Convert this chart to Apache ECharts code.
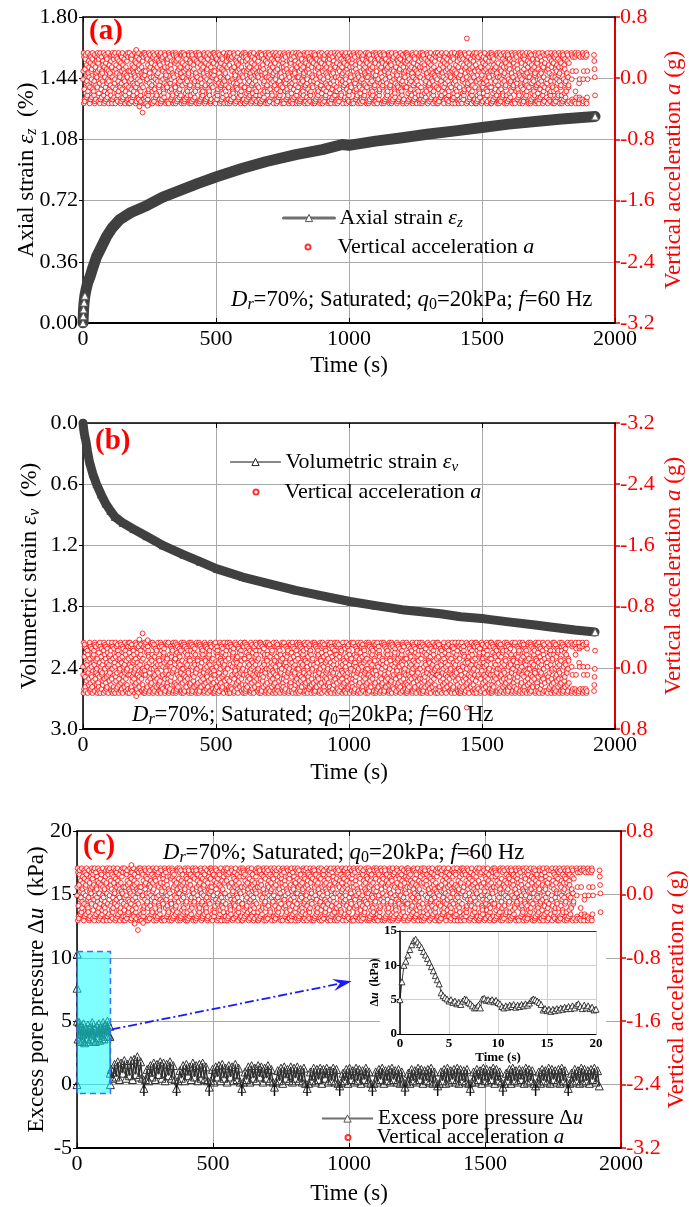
<!DOCTYPE html>
<html>
<head>
<meta charset="utf-8">
<script src="https://cdn.jsdelivr.net/npm/echarts@6/dist/echarts.min.js"></script>
<style>
  html, body { margin: 0; padding: 0; background: #fff; }
  #chart { width: 689px; height: 1207px; }
</style>
</head>
<body>
<div id="chart"></div>
<script>
const FONT = 'Liberation Serif';

// Time axis shared by the three panels (s)
const timeMin = 0, timeMax = 2000, timeInterval = 500;

// (a) axial strain (%) vs time (s)
const axialTime   = [0, 1, 2, 4, 7, 12, 18, 26, 38, 51, 70, 89, 110, 139, 180, 239, 300, 365, 430, 502, 600, 690, 800, 900, 975, 1000, 1100, 1200, 1293, 1400, 1500, 1600, 1700, 1800, 1925];
const axialStrain = [0, 0.04, 0.08, 0.12, 0.16, 0.2, 0.24, 0.27, 0.33, 0.39, 0.45, 0.51, 0.56, 0.61, 0.65, 0.69, 0.74, 0.78, 0.82, 0.86, 0.91, 0.95, 0.99, 1.02, 1.05, 1.045, 1.07, 1.09, 1.11, 1.13, 1.15, 1.17, 1.185, 1.2, 1.215];

// (b) volumetric strain (%) vs time (s)
const volTime   = [0, 3, 6, 11, 17, 24, 37, 51, 68, 85, 103, 120, 150, 190, 239, 300, 377, 440, 503, 600, 690, 800, 891, 1004, 1100, 1200, 1344, 1420, 1510, 1600, 1700, 1758, 1850, 1925];
const volStrain = [0, 0.07, 0.12, 0.18, 0.28, 0.38, 0.5, 0.6, 0.7, 0.79, 0.86, 0.92, 0.98, 1.04, 1.11, 1.2, 1.29, 1.36, 1.43, 1.51, 1.57, 1.64, 1.69, 1.75, 1.79, 1.83, 1.87, 1.9, 1.92, 1.95, 1.98, 2.0, 2.03, 2.05];

// (c) excess pore pressure (kPa): first two minutes, then the long record
const poreEarlyTime  = [0, 0.5, 1, 1.5, 4, 8, 12, 16, 20, 24, 28, 32, 36, 40, 44, 48, 52, 56, 60, 64, 68, 72, 76, 80, 84, 88, 92, 96, 100, 104, 108, 112, 116, 120, 121, 122, 123];
const poreEarlyValue = [0, 7.6, 10.3, 5.0, 3.6, 4.9, 3.4, 4.6, 3.5, 4.8, 3.3, 4.4, 3.6, 4.7, 3.4, 4.5, 3.6, 4.9, 3.5, 4.4, 3.4, 4.6, 3.7, 4.8, 3.5, 4.5, 3.6, 4.9, 3.6, 4.7, 3.8, 5.0, 3.9, 4.6, 3.8, 0.9, 0.0];
const poreBandStart = 126, poreBandStep = 6;
const poreBand = [
  1.2,0.5,1.6,0.6,1.8,0.4,1.7,0.9,1.9,0.5,1.6,0.7,1.9,0.4,2.0,0.8,2.2,0.6,1.8,0.5,
  -0.3,0.4,1.2,0.3,1.5,0.6,1.7,0.4,1.6,0.8,1.8,0.5,1.7,0.3,1.6,0.7,1.8,0.5,1.5,0.4,
  -0.3,0.3,1.1,0.5,1.5,0.3,1.6,0.7,1.4,0.4,1.7,0.6,1.5,0.3,1.6,0.5,1.7,0.4,1.4,0.3,
  -0.2,0.3,1.2,0.2,1.4,0.6,1.5,0.3,1.6,0.5,1.3,0.2,1.5,0.6,1.4,0.3,1.6,0.4,1.3,0.2,
  -0.3,0.2,1.0,0.4,1.4,0.2,1.5,0.5,1.3,0.3,1.5,0.6,1.4,0.2,1.3,0.5,1.5,0.3,1.2,0.2,
  -0.2,0.2,1.1,0.3,1.3,0.1,1.4,0.5,1.2,0.3,1.4,0.2,1.3,0.5,1.4,0.3,1.2,0.2,1.3,0.1,
  -0.3,0.1,1.0,0.3,1.3,0.2,1.2,0.4,1.3,0.1,1.2,0.5,1.3,0.2,1.1,0.3,1.3,0.2,1.2,0.1,
  -0.1,0.2,0.9,0.3,1.2,0.1,1.3,0.4,1.1,0.2,1.3,0.3,1.2,0.1,1.1,0.4,1.3,0.2,1.0,0.1,
  -0.2,0.1,1.0,0.2,1.2,0.4,1.3,0.1,1.1,0.3,1.2,0.2,1.3,0.4,1.1,0.2,1.2,0.1,1.0,0.2,
  -0.2,0.2,0.9,0.1,1.2,0.3,1.1,0.2,1.3,0.4,1.2,0.1,1.1,0.3,1.2,0.2,1.3,0.1,1.0,0.2,
  -0.1,0.1,1.0,0.3,1.2,0.1,1.3,0.2,1.1,0.4,1.2,0.2,1.3,0.1,1.2,0.3,1.1,0.2,1.2,0.1,
  -0.3,0.2,1.0,0.2,1.2,0.4,1.1,0.1,1.3,0.3,1.2,0.2,1.1,0.4,1.3,0.1,1.2,0.3,1.0,0.2,
  -0.2,0.1,0.9,0.3,1.2,0.1,1.3,0.3,1.1,0.2,1.2,0.4,1.1,0.1,1.3,0.2,1.2,0.3,1.1,0.1,
  -0.1,0.2,1.0,0.1,1.2,0.3,1.1,0.2,1.3,0.1,1.2,0.4,1.1,0.2,1.2,0.1,1.3,0.3,1.1,0.2,
  -0.3,0.1,0.9,0.2,1.2,0.3,1.1,0.1,1.3,0.2,1.2,0.3,1.1,0.1,1.2,0.4,1.3,0.2,1.1,-0.1
];
// short pressure drops at the start of each loading block
const poreDipTime = [246, 366, 486, 606, 726, 846, 966, 1086, 1206, 1326, 1446, 1566, 1686, 1806];
const poreDipDepth = -0.9;

// highlighted window and the pointer towards the detail plot (time s, kPa)
const zoomBox = { t0: 0, t1: 123, u0: -0.7, u1: 10.5 };
const pointerFrom = [127, 4.35], pointerTo = [1010, 8.15];

// detail plot: first 20 s of pore pressure (kPa), sampled every 0.2 s
const insetStep = 0.2;
const insetPore = [
  5.0,7.6,10.0,10.6,11.5,12.3,13.0,13.6,13.8,13.4,
  13.0,12.6,12.0,11.5,11.0,10.4,9.8,9.2,8.5,7.9,
  7.3,6.0,5.6,5.3,5.1,4.8,5.0,4.6,4.8,4.4,
  4.6,4.3,4.8,5.1,5.0,4.6,4.4,4.1,3.8,3.9,
  4.2,3.8,5.1,5.2,4.9,5.0,4.8,5.0,4.7,4.9,
  4.6,4.4,4.0,3.8,4.1,3.9,4.2,4.0,4.3,3.9,
  4.2,4.0,4.3,4.1,4.4,4.2,4.5,4.9,5.1,5.0,
  4.8,4.6,4.3,3.5,3.7,3.4,3.6,3.3,3.6,3.4,
  3.7,3.5,3.8,3.6,3.9,3.7,4.0,3.7,4.1,3.8,
  4.2,4.4,4.0,3.7,4.2,3.8,4.1,3.7,3.9,3.5,
  3.6
];

// vertical acceleration (g): one character per sample, 'a' = -0.33 g ... 'z' = +0.33 g, '.' = no sample
const accelEnd = 1925;
const accelMin = -0.33, accelLevel = 0.0264;
const accelCodes = [
  'mqzaxhcbrwyfkdtloezgjpvsnbaiyucxqmrdwzhtfkgelyabsocjpvnxizqu',
  'bwfyrkazcomhxdqplvtjzeasgnybiucxrwkdfmzqalhtopgjevybsanzcixw',
  'ydqkmzahrtxcpfwbelgzsvojniayubkxqhzctdmrfwlpaegsyjovbnzxcqia',
  'fzlaqcxmhwbytrdkepgsjozvnaiubyxfkqmzdctwrhlaegbpsjyovnixzcqa',
  'ozbyqdaxlfmwcteghzrkpysvaniujbgaxzcnrbyhqtmdkfweoszlpaviyjuc',
  'tyazlbwecrxqmhgfdkzsypnaojvbiuwbsazqlygxktcrmhdfpezoaynvjbiu',
  'iazyvxbfqcwtmkrgdhlsoepzaynjubnzxaqbyctkfrwmdhlgseopzyaivjbu',
  'easzbxyqmctfrwkdlhgopzvaynijublzaxybqcmtwfdkrhegsopzvyanijbu',
  'cxqmrdwzhtfkgelyabsocjpvnxizquozbyqdaxlfmwcteghzrkpysvaniujb',
  'cxrwkdfmzqalhtopgjevybsanzcixwtyazlbwecrxqmhgfdkzsypnaojvbiu',
  'kxqhzctdmrfwlpaegsyjovbnzxcqiaiazyvxbfqcwtmkrgdhlsoepzaynjub',
  'xfkqmzdctwrhlaegbpsjyovnixzcqaeaszbxyqmctfrwkdlhgopzvaynijub',
  'gaxzcnrbyhqtmdkfweoszlpaviyjucmqzaxhcbrwyfkdtloezgjpvsnbaiyu',
  'wbsazqlygxktcrmhdfpezoaynvjbiubwfyrkazcomhxdqplvtjzeasgnybiu',
  'nzxaqbyctkfrwmdhlgseopzyaivjbuydqkmzahrtxcpfwbelgzsvojniayub',
  'lzaxybqcmtwfdkrhegsopzvyanijbufzlaqcxmhwbytrdkepgsjozvnaiuby',
  'bwfyrkazcomhxdqplvtjzeasgnybiugaxzcnrbyhqtmdkfweoszlpaviyjuc',
  'ydqkmzahrtxcpfwbelgzsvojniayubwbsazqlygxktcrmhdfpezoaynvjbiu',
  'fzlaqcxmhwbytrdkepgsjozvnaiubynzxaqbyctkfrwmdhlgseopzyaivjbu',
  'ozbyqdaxlfmwcteghzrkpysvaniujblzaxybqcmtwfdkrhegsopzvyanijbu',
  'tyazlbwecrxqmhgfdkzsypnaojvbiucxqmrdwzhtfkgelyabsocjpvnxizqu',
  'iazyvxbfqcwtmkrgdhlsoepzaynjubcxrwkdfmzqalhtopgjevybsanzcixw',
  'easzbxyqmctfrwkdlhgopzvaynijubkxqhzctdmrfwlpaegsyjovbnzxcqia',
  'mqzaxhcbrwyfkdtloezgjpvsnbaiyuxfkqmzdctwrhlaegbpsjyovnixzcqa',
  'cxrwkdfmzqalhtopgjevybsanzcixwozbyqdaxlfmwcteghzrkpysvaniujb',
  'kxqhzctdmrfwlpaegsyjovbnzxcqiatyazlbwecrxqmhgfdkzsypnaojvbiu',
  'xfkqmzdctwrhlaegbpsjyovnixzcqaiazyvxbfqcwtmkrgdhlsoepzaynjub',
  'gaxzcnrbyhqtmdkfweoszlpaviyjuceaszbxyqmctfrwkdlhgopzvaynijub',
  'wbsazqlygxktcrmhdfpezoaynvjbiumqzaxhcbrwyfkdtloezgjpvsnbaiyu',
  'nzxaqbyctkfrwmdhlgseopzyaivjbubwfyrkazcomhxdqplvtjzeasgnybiu',
  '.....',
  'ydqkmzahrtxcpfwbelgzsvojniayubgaxzcnrbyhqtmdkfweoszlpaviyjuceaszbxyqmctfrwkdlhgopzvaynijub',
  '.......azmycqxb......bxzgaqdy......zyakdmcx.......cazxmbqy......xbzaydqm........................yvrne'
].join('');
// isolated readings outside the main band (time s, g)
const accelOutliers = [[200, 0.37], [212, -0.37], [224, -0.45], [243, -0.36], [1443, 0.52]];

// ---------- data tables for the library ----------
const accelStep = accelEnd / (accelCodes.length - 1);
const accelData = [];
for (let i = 0; i < accelCodes.length; i++) {
  const c = accelCodes[i];
  if (c === '.') continue;
  accelData.push([i * accelStep, accelMin + (c.charCodeAt(0) - 97) * accelLevel]);
}
accelOutliers.forEach(p => accelData.push(p));

const openMark = { color: '#fff', borderColor: '#666', borderWidth: 1 };
function strainData(times, values, openCount) {
  const last = times.length - 1;
  return times.map((t, i) => {
    const item = { value: [t, values[i]] };
    if (i < openCount || i === last) item.itemStyle = openMark;
    return item;
  });
}
const poreData = poreEarlyTime.map((t, i) => [t, poreEarlyValue[i]])
  .concat(poreBand.map((v, i) => [poreBandStart + i * poreBandStep, v]));
const insetData = insetPore.map((v, i) => [+(i * insetStep).toFixed(1), v]);

// ---------- text styles ----------
function richSet(size, lh, pad) {
  return {
    n: { fontFamily: FONT, fontSize: size, lineHeight: lh },
    i: { fontFamily: FONT, fontSize: size, fontStyle: 'italic', lineHeight: lh },
    s: { fontFamily: FONT, fontSize: Math.round(size * 0.68), fontStyle: 'italic', lineHeight: 15, verticalAlign: 'bottom' },
    s0: { fontFamily: FONT, fontSize: Math.round(size * 0.68), lineHeight: 15, verticalAlign: 'bottom' },
    g: { width: pad || 0, lineHeight: lh }
  };
}
const legendLabels = {
  'Axial strain εz': '{n|Axial strain }{i|ε}{s|z}',
  'Volumetric strain εv': '{n|Volumetric strain }{i|ε}{s|v}',
  'Excess pore pressure Δu': '{n|Excess pore pressure Δ}{i|u}',
  'Vertical acceleration a': '{g|}{n|Vertical acceleration }{i|a}'
};
const legendFmt = name => legendLabels[name] || name;

// ---------- axes ----------
function bottomTime(gi, gap) {
  return {
    type: 'value', gridIndex: gi, position: 'bottom', min: timeMin, max: timeMax, interval: timeInterval,
    axisLine: { show: true, onZero: false, lineStyle: { color: '#000', width: 2 } },
    axisTick: { show: true, inside: true, length: 5, lineStyle: { color: '#000', width: 1 } },
    axisLabel: { show: true, margin: 5, color: '#000', fontFamily: FONT, fontSize: 22, formatter: v => String(v) },
    splitLine: { show: true, lineStyle: { color: '#a8a8a8', width: 1 } },
    name: 'Time (s)', nameLocation: 'middle', nameGap: gap, nameMoveOverlap: false,
    nameTextStyle: { color: '#000', fontFamily: FONT, fontSize: 23 }
  };
}
function topTime(gi) {
  return {
    type: 'value', gridIndex: gi, position: 'top', min: timeMin, max: timeMax, interval: timeInterval,
    axisLine: { show: true, onZero: false, lineStyle: { color: '#000', width: 1.5 } },
    axisTick: { show: true, inside: true, length: 5, lineStyle: { color: '#000', width: 1 } },
    axisLabel: { show: false }, splitLine: { show: false }
  };
}
function leftY(gi, min, max, interval, inverse, digits, name, gap) {
  return {
    type: 'value', gridIndex: gi, position: 'left', min, max, interval, inverse,
    axisLine: { show: true, onZero: false, lineStyle: { color: '#000', width: 1.5 } },
    axisTick: { show: true, inside: false, length: 4, lineStyle: { color: '#000', width: 1 } },
    axisLabel: { margin: 5, color: '#000', fontFamily: FONT, fontSize: 22,
      formatter: v => (Math.abs(v) < 1e-9 ? 0 : v).toFixed(digits) },
    splitLine: { show: true, lineStyle: { color: '#a8a8a8', width: 1 } },
    name, nameLocation: 'middle', nameRotate: 90, nameGap: gap, nameMoveOverlap: false,
    nameTextStyle: { color: '#000', fontFamily: FONT, fontSize: 23, rich: richSet(23, 26) }
  };
}
function rightY(gi, inverse, gap) {
  return {
    type: 'value', gridIndex: gi, position: 'right', min: -3.2, max: 0.8, interval: 0.8, inverse,
    axisLine: { show: true, onZero: false, lineStyle: { color: '#e00000', width: 2 } },
    axisTick: { show: true, inside: false, length: 5, lineStyle: { color: '#e00000', width: 1.5 } },
    axisLabel: { margin: 5, color: '#ff0000', fontFamily: FONT, fontSize: 22,
      formatter: v => (Math.abs(v) < 1e-9 ? 0 : v).toFixed(1) },
    splitLine: { show: false },
    name: '{n|Vertical acceleration }{i|a}{n| (g)}', nameLocation: 'middle', nameRotate: 90, nameGap: gap, nameMoveOverlap: false,
    nameTextStyle: { color: '#ff0000', fontFamily: FONT, fontSize: 23, rich: richSet(23, 26) }
  };
}

// ---------- series helpers ----------
function accelSeries(xi, yi) {
  return {
    type: 'scatter', name: 'Vertical acceleration a', xAxisIndex: xi, yAxisIndex: yi,
    data: accelData, symbol: 'circle', symbolSize: 4.8, silent: true, z: 2,
    itemStyle: { color: '#fff', borderColor: '#ff0000', borderWidth: 1 }
  };
}
function strainSeries(name, xi, yi, data, width) {
  return {
    type: 'line', name, xAxisIndex: xi, yAxisIndex: yi, data, z: 3, silent: true,
    symbol: 'triangle', symbolSize: 7, showSymbol: true,
    itemStyle: { color: '#404040', borderColor: '#404040', borderWidth: 1 },
    lineStyle: { color: '#404040', width, cap: 'round', join: 'round' }
  };
}

// one legend box per entry so each key can have its own icon size
function legendBox(name, left, top, w, h, size, lh, style, pad) {
  return {
    orient: 'vertical', left, top, padding: 0, itemWidth: w, itemHeight: h,
    selectedMode: false, formatter: legendFmt,
    textStyle: { color: '#000', fontFamily: FONT, fontSize: size, lineHeight: lh, rich: richSet(size, lh, pad) },
    data: [style ? Object.assign({ name }, style) : name]
  };
}

const noteRich = {
  n: { fontFamily: FONT, fontSize: 22.7, lineHeight: 26 },
  i: { fontFamily: FONT, fontSize: 22.7, fontStyle: 'italic', lineHeight: 26 },
  s: { fontFamily: FONT, fontSize: 16, fontStyle: 'italic', lineHeight: 15, verticalAlign: 'bottom' },
  s0: { fontFamily: FONT, fontSize: 16, lineHeight: 15, verticalAlign: 'bottom' }
};
function note(x, y) {
  return {
    type: 'text', x, y, z: 10, silent: true,
    style: {
      text: '{i|D}{s|r}{n|=70%; Saturated; }{i|q}{s0|0}{n|=20kPa; }{i|f}{n|=60 Hz}',
      fill: '#000', fontFamily: FONT, fontSize: 22.7, align: 'left', verticalAlign: 'middle', rich: noteRich
    }
  };
}
function panelTag(txt, x, y) {
  return { type: 'text', x, y, z: 10, silent: true,
    style: { text: txt, fill: '#ff0000', fontFamily: FONT, fontSize: 29, fontWeight: 'bold', align: 'left', verticalAlign: 'middle' } };
}

const strainKey = (border, lineColor, lineWidth) => ({
  itemStyle: { color: '#fff', borderColor: border, borderWidth: 1 }, lineStyle: { color: lineColor, width: lineWidth }
});

const option = {
  animation: false,
  backgroundColor: '#fff',
  grid: [
    { left: 83, top: 17, width: 532, height: 306 },
    { left: 83, top: 423, width: 532, height: 306 },
    { left: 77, top: 831, width: 544, height: 317 },
    { left: 400, top: 931, width: 196, height: 103 }
  ].map(g => Object.assign({ show: false, containLabel: false, outerBoundsMode: 'none' }, g)),
  xAxis: [
    bottomTime(0, 31), topTime(0),
    bottomTime(1, 32), topTime(1),
    bottomTime(2, 34), topTime(2),
    {
      type: 'value', gridIndex: 3, position: 'bottom', min: 0, max: 20, interval: 5, z: 3,
      axisLine: { show: true, onZero: false, lineStyle: { color: '#000', width: 1.2 } },
      axisTick: { show: false },
      axisLabel: { margin: 3, color: '#000', fontFamily: FONT, fontSize: 13, fontWeight: 'bold' },
      splitLine: { show: true, lineStyle: { color: '#cfcfcf', width: 1 } },
      name: 'Time (s)', nameLocation: 'middle', nameGap: 17, nameMoveOverlap: false,
      nameTextStyle: { color: '#000', fontFamily: FONT, fontSize: 13, fontWeight: 'bold' }
    },
    {
      type: 'value', gridIndex: 3, position: 'top', min: 0, max: 20, z: 3,
      axisLine: { show: true, onZero: false, lineStyle: { color: '#333', width: 1 } },
      axisTick: { show: false }, axisLabel: { show: false }, splitLine: { show: false }
    }
  ],
  yAxis: [
    leftY(0, 0, 1.8, 0.36, false, 2, '{n|Axial strain }{i|ε}{s|z}{n|  (%)}', 43),
    rightY(0, false, 46),
    leftY(1, 0, 3.0, 0.6, true, 1, '{n|Volumetric strain }{i|ε}{s|v}{n|  (%)}', 40),
    rightY(1, true, 46),
    leftY(2, -5, 20, 5, false, 0, '{n|Excess pore pressure Δ}{i|u}{n|  (kPa)}', 27),
    rightY(2, false, 43),
    {
      type: 'value', gridIndex: 3, position: 'left', min: 0, max: 15, interval: 5, z: 3,
      axisLine: { show: true, onZero: false, lineStyle: { color: '#000', width: 1.5 } },
      axisTick: { show: true, length: 3, lineStyle: { color: '#000' } },
      axisLabel: { margin: 3, color: '#000', fontFamily: FONT, fontSize: 13, fontWeight: 'bold' },
      splitLine: { show: true, lineStyle: { color: '#cfcfcf', width: 1 } },
      name: '{n|Δ}{i|u}{n|  (kPa)}', nameLocation: 'middle', nameRotate: 90, nameGap: 19, nameMoveOverlap: false,
      nameTextStyle: { color: '#000', fontFamily: FONT, fontSize: 12, fontWeight: 'bold',
        rich: { n: { fontFamily: FONT, fontSize: 12, fontWeight: 'bold' }, i: { fontFamily: FONT, fontSize: 12, fontWeight: 'bold', fontStyle: 'italic' } } }
    }
  ],
  legend: [
    legendBox('Axial strain εz', 282, 205, 51, 9, 22, 26, strainKey('#555', '#707070', 3)),
    legendBox('Vertical acceleration a', 304.5, 234, 5, 5, 22, 26, null, 22),
    legendBox('Volumetric strain εv', 230, 449, 50, 9, 22, 26, strainKey('#222', '#111', 1)),
    legendBox('Vertical acceleration a', 252.5, 479, 5, 5, 22, 26, null, 21),
    legendBox('Excess pore pressure Δu', 321, 1108, 51, 9, 21, 20, strainKey('#555', '#707070', 2)),
    legendBox('Vertical acceleration a', 344.5, 1127, 5, 5, 21, 20, null, 21)
  ],
  graphic: [
    // white backing behind the detail plot
    { type: 'rect', z: 1, silent: true, shape: { x: 380, y: 923, width: 226, height: 139 }, style: { fill: '#fff' } },
    panelTag('(a)', 89, 32), panelTag('(b)', 95, 442), panelTag('(c)', 83, 847),
    note(231, 300), note(132, 715), note(163, 853)
  ],
  series: [
    accelSeries(0, 1),
    strainSeries('Axial strain εz', 0, 0, strainData(axialTime, axialStrain, 5), 11),
    accelSeries(2, 3),
    strainSeries('Volumetric strain εv', 2, 2, strainData(volTime, volStrain, 0), 9),
    accelSeries(4, 5),
    {
      type: 'line', name: 'Excess pore pressure Δu', xAxisIndex: 4, yAxisIndex: 4, data: poreData, z: 3, silent: true,
      symbol: 'triangle', symbolSize: 8, showSymbol: true,
      itemStyle: { color: 'rgba(255,255,255,0)', borderColor: '#333', borderWidth: 1 },
      lineStyle: { color: '#2e2e2e', width: 1.4 }
    },
    {
      type: 'custom', name: 'pressure drops', xAxisIndex: 4, yAxisIndex: 4, z: 4, silent: true,
      data: poreDipTime.map(t => [t, 0, poreDipDepth]),
      renderItem: (params, api) => {
        const a = api.coord([api.value(0), api.value(1)]);
        const b = api.coord([api.value(0), api.value(2)]);
        return { type: 'line', shape: { x1: a[0], y1: a[1], x2: b[0], y2: b[1] }, style: { stroke: '#111', lineWidth: 1.5 } };
      }
    },
    {
      type: 'custom', name: 'window', xAxisIndex: 4, yAxisIndex: 4, z: 5, silent: true, clip: false,
      data: [[zoomBox.t0, zoomBox.u0, zoomBox.t1, zoomBox.u1]],
      renderItem: (params, api) => {
        const a = api.coord([api.value(0), api.value(3)]);
        const b = api.coord([api.value(2), api.value(1)]);
        return { type: 'rect', shape: { x: a[0], y: a[1], width: b[0] - a[0], height: b[1] - a[1] },
          style: { fill: 'rgba(0,255,255,0.5)', stroke: '#3a6ff7', lineWidth: 1.5, lineDash: [6, 4] } };
      }
    },
    {
      type: 'custom', name: 'pointer', xAxisIndex: 4, yAxisIndex: 4, z: 6, silent: true, clip: false,
      data: [[pointerFrom[0], pointerFrom[1], pointerTo[0], pointerTo[1]]],
      renderItem: (params, api) => {
        const s = api.coord([api.value(0), api.value(1)]);
        const e = api.coord([api.value(2), api.value(3)]);
        const dx = e[0] - s[0], dy = e[1] - s[1], L = Math.hypot(dx, dy);
        const ux = dx / L, uy = dy / L, nx = -uy, ny = ux;
        const hl = 17, hw = 6;
        const bx = e[0] - ux * hl, by = e[1] - uy * hl;
        return { type: 'group', children: [
          { type: 'line', shape: { x1: s[0], y1: s[1], x2: bx + ux * 5, y2: by + uy * 5 },
            style: { stroke: '#1a1aff', lineWidth: 1.8, lineDash: [9, 3, 2, 3] } },
          { type: 'polygon', shape: { points: [[e[0], e[1]], [bx + nx * hw - ux * 2, by + ny * hw - uy * 2], [bx + ux * 5, by + uy * 5], [bx - nx * hw - ux * 2, by - ny * hw - uy * 2]] },
            style: { fill: '#1a1aff' } }
        ] };
      }
    },
    {
      type: 'line', name: 'detail', xAxisIndex: 6, yAxisIndex: 6, data: insetData, z: 6, silent: true,
      symbol: 'triangle', symbolSize: 6, showSymbol: true,
      itemStyle: { color: '#fff', borderColor: '#111', borderWidth: 0.8 },
      lineStyle: { color: '#111', width: 0.8 }
    }
  ]
};

const chart = echarts.init(document.getElementById('chart'), null, { renderer: 'canvas', width: 689, height: 1207 });
chart.setOption(option);
</script>
</body>
</html>
